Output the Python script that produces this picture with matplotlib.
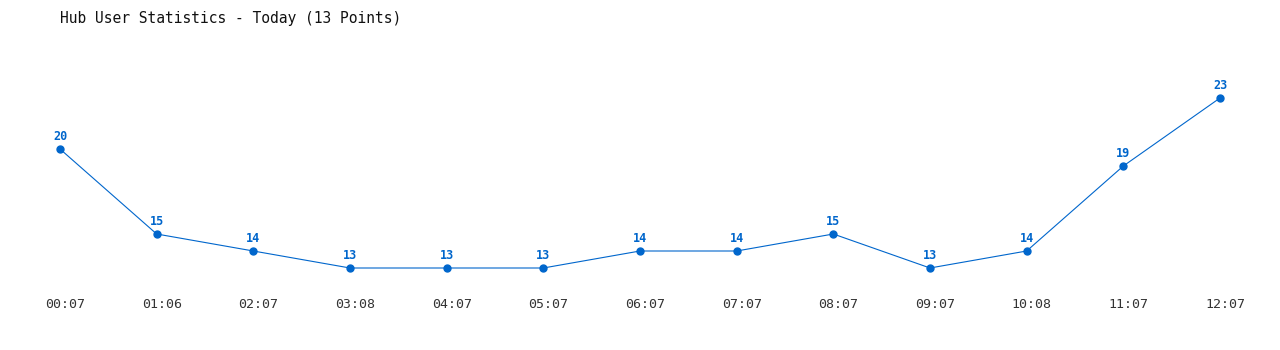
import matplotlib
matplotlib.use('Agg')
import matplotlib.pyplot as plt
from matplotlib.transforms import ScaledTranslation

times = ['00:07', '01:06', '02:07', '03:08', '04:07', '05:07', '06:07',
         '07:07', '08:07', '09:07', '10:08', '11:07', '12:07']
users = [20, 15, 14, 13, 13, 13, 14, 14, 15, 13, 14, 19, 23]

blue = '#0066cc'
W, H = 1280, 350

fig = plt.figure(figsize=(W / 100, H / 100), dpi=100)
# axes placed in pixel terms: x 60..1220, y 40..290
ax = fig.add_axes([60 / W, 1 - 290 / H, (1220 - 60) / W, (290 - 40) / H])

xs = list(range(len(users)))
ax.plot(xs, users, color=blue, linewidth=0.8, marker='o', markersize=5,
        clip_on=False)
for x, v in zip(xs, users):
    ax.annotate(str(v), (x, v), xytext=(0, 4.5), textcoords='offset points',
                ha='center', va='bottom', color=blue, fontsize=8.5,
                fontweight='bold', family='DejaVu Sans Mono')

ax.set_xlim(0, len(users) - 1)
ax.set_ylim(20 - 141 / 17, 20 + 109 / 17)
ax.set_xticks(xs)
ax.set_xticklabels(times, family='DejaVu Sans Mono', fontsize=9.5, color='#333333')
ax.tick_params(axis='x', length=0, pad=6)
shift = ScaledTranslation(5 / 100, 0, fig.dpi_scale_trans)
for lbl in ax.get_xticklabels():
    lbl.set_transform(lbl.get_transform() + shift)
ax.set_yticks([])
for s in ax.spines.values():
    s.set_visible(False)

fig.text(60 / W, 1 - 18 / H, 'Hub User Statistics - Today (13 Points)',
         ha='left', va='center', fontsize=10.5, family='DejaVu Sans Mono',
         color='#111111')

fig.savefig('out.png', dpi=100, facecolor='white')
